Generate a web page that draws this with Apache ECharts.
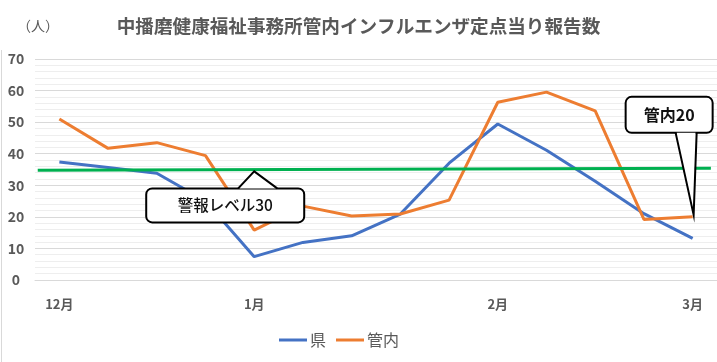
<!DOCTYPE html>
<html>
<head>
<meta charset="utf-8">
<script src="https://cdn.jsdelivr.net/npm/echarts@6/dist/echarts.min.js"></script>
<style>html,body{margin:0;padding:0;background:#fff;}#c{width:717px;height:362px;}</style>
</head>
<body>
<div id="c"></div>
<script>
const titleText = '中播磨健康福祉事務所管内インフルエンザ定点当り報告数';
const unitText = '（人）';
const categories = ['12月','','','','1月','','','','','2月','','','','3月'];
const ken = [37.4, 35.6, 33.8, 25.0, 7.4, 11.9, 14.0, 20.9, 37.0, 49.4, 41.1, 31.3, 21.0, 13.2];
const kannai = [51.0, 41.7, 43.5, 39.4, 15.8, 23.4, 20.3, 20.9, 25.3, 56.3, 59.5, 53.6, 19.2, 20.0];
// alarm line drawn across the plot (fraction of plot width, value)
const alarmLine = [[0.004, 34.75], [0.991, 35.4]];
const alarmLabel = '警報レベル30';
const alarmCalloutAt = [4, 34.4];
const kannaiLabel = '管内20';
const kannaiCalloutIndex = 13;
const yTicks = { min: 0, max: 70, interval: 10 };

const FONT = '"Noto Sans CJK JP", "Noto Sans", sans-serif';
const GREY = '#595959';

const chart = echarts.init(document.getElementById('c'), null, { renderer: 'canvas' });

const option = {
  animation: false,
  backgroundColor: '#ffffff',
  textStyle: { fontFamily: FONT },
  title: {
    text: titleText,
    left: 'center',
    top: 12,
    textStyle: { fontSize: 18.6, fontWeight: 'bold', color: GREY, fontFamily: FONT }
  },
  legend: {
    data: ['県', '管内'],
    left: 274,
    top: 327,
    icon: 'rect',
    itemWidth: 28,
    itemHeight: 3,
    itemGap: 10,
    textStyle: { fontSize: 16, color: GREY, fontFamily: FONT, padding: [0, 0, 0, -2] }
  },
  grid: { left: 35, right: 0, top: 59, bottom: 82 },
  xAxis: [
    {
      type: 'category',
      data: categories,
      boundaryGap: true,
      axisLine: { show: true, lineStyle: { color: '#d9d9d9', width: 1 } },
      axisTick: { show: false },
      axisLabel: { interval: 0, margin: 18, fontSize: 13, fontWeight: 'bold', color: GREY, fontFamily: FONT },
      splitLine: { show: false }
    },
    { type: 'value', min: 0, max: 1, show: false }
  ],
  yAxis: {
    type: 'value',
    min: yTicks.min,
    max: yTicks.max,
    interval: yTicks.interval,
    axisLine: { show: false },
    axisTick: { show: false },
    axisLabel: { align: 'center', margin: 19, fontSize: 14, fontWeight: 'bold', color: GREY, fontFamily: FONT },
    splitLine: { show: true, lineStyle: { color: '#d9d9d9', width: 1 } },
    minorTick: { show: false, splitNumber: 5 },
    minorSplitLine: { show: true, lineStyle: { color: '#eeeeee', width: 1 } }
  },
  series: [
    {
      name: '県', type: 'line', data: ken, symbol: 'none',
      lineStyle: { color: '#4472C4', width: 3 }, itemStyle: { color: '#4472C4' }, z: 2
    },
    {
      name: '管内', type: 'line', data: kannai, symbol: 'none',
      lineStyle: { color: '#ED7D31', width: 3 }, itemStyle: { color: '#ED7D31' }, z: 3
    },
    {
      name: '警報', type: 'line', xAxisIndex: 1, data: alarmLine, symbol: 'none',
      lineStyle: { color: '#00B050', width: 3 }, z: 4
    }
  ]
};
chart.setOption(option);

function callout(tip, box, base, text, weight, size) {
  const els = [];
  const w = box[2] - box[0], h = box[3] - box[1];
  els.push({
    type: 'rect', z: 100,
    shape: { x: box[0], y: box[1], width: w, height: h, r: 6 },
    style: { fill: '#ffffff', stroke: '#000000', lineWidth: 2 }
  });
  const edgeY = tip[1] < box[1] ? box[1] : box[3];
  els.push({
    type: 'polygon', z: 101,
    shape: { points: [[base[0] + 1, edgeY], tip, [base[1] - 1, edgeY]] },
    style: { fill: '#ffffff', stroke: null }
  });
  els.push({
    type: 'polyline', z: 102,
    shape: { points: [[base[0], edgeY], tip, [base[1], edgeY]] },
    style: { stroke: '#000000', lineWidth: 2, fill: null, lineJoin: 'miter' }
  });
  els.push({
    type: 'text', z: 103,
    x: (box[0] + box[2]) / 2, y: (box[1] + box[3]) / 2,
    style: { text: text, fill: '#111111', font: weight + ' ' + size + 'px ' + FONT, align: 'center', verticalAlign: 'middle' }
  });
  return els;
}

const t1 = chart.convertToPixel({ xAxisIndex: 0, yAxisIndex: 0 }, alarmCalloutAt);
const t2 = chart.convertToPixel({ xAxisIndex: 0, yAxisIndex: 0 }, [kannaiCalloutIndex, kannai[kannaiCalloutIndex]]);
t2[1] -= 2;
t2[0] += 1;

const g = [];
g.push({
  type: 'text', left: 17, top: 19,
  style: { text: unitText, fill: GREY, font: 'normal 14px ' + FONT }
});
g.push({
  type: 'line', z: 1,
  shape: { x1: 1.5, y1: 50, x2: 1.5, y2: 362 },
  style: { stroke: '#d9d9d9', lineWidth: 1 }
});
g.push(...callout(t1, [t1[0] - 108, t1[1] + 17, t1[0] + 50, t1[1] + 51], [t1[0] - 16, t1[0] + 23], alarmLabel, '500', 15.5));
g.push(...callout(t2, [t2[0] - 68, t2[1] - 118, t2[0] + 19, t2[1] - 82], [t2[0] - 18, t2[0] + 3], kannaiLabel, 'bold', 16));

chart.setOption({ graphic: g });
</script>
</body>
</html>
